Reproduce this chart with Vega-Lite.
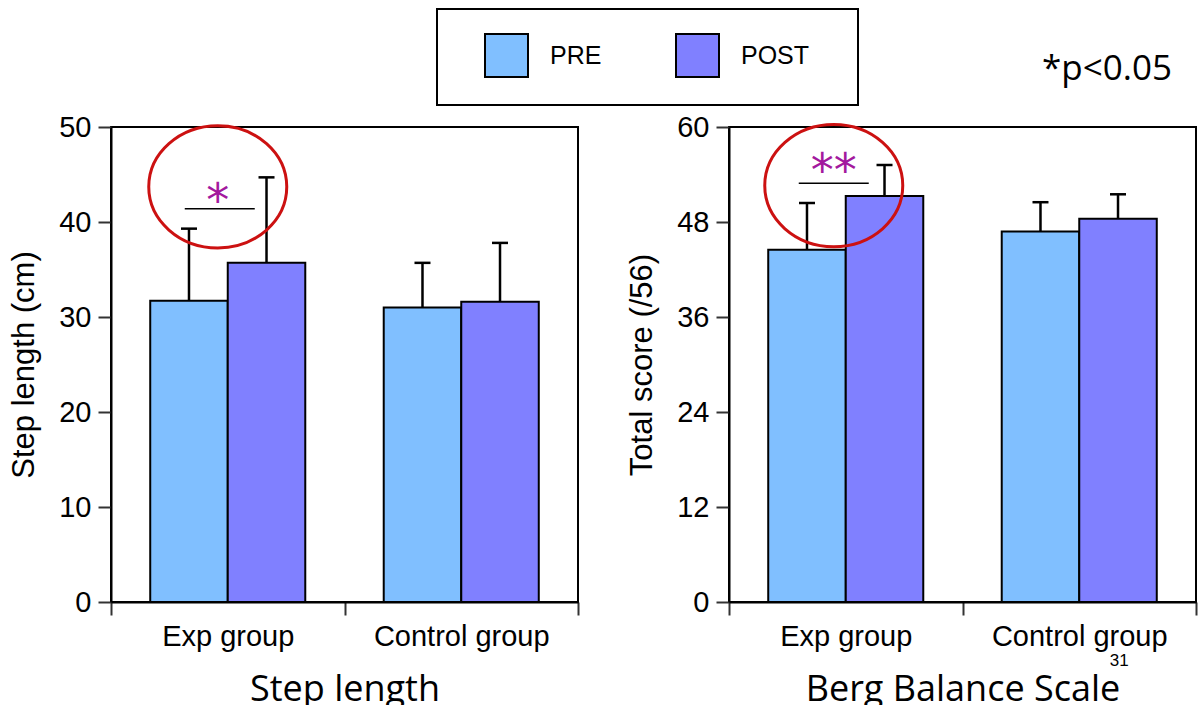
{
  "$schema": "https://vega.github.io/schema/vega-lite/v6.json",
  "background": "white",
  "padding": {"left": 7, "top": 8, "right": 0, "bottom": 0},
  "bounds": "flush",
  "spacing": 151,
  "datasets": {
    "bars": [
      {"panel": "Step length", "group": "Exp group", "phase": "PRE", "mean": 31.7, "upper": 39.3},
      {"panel": "Step length", "group": "Exp group", "phase": "POST", "mean": 35.7, "upper": 44.7},
      {"panel": "Step length", "group": "Control group", "phase": "PRE", "mean": 31.0, "upper": 35.7},
      {"panel": "Step length", "group": "Control group", "phase": "POST", "mean": 31.6, "upper": 37.8},
      {"panel": "Berg Balance Scale", "group": "Exp group", "phase": "PRE", "mean": 44.5, "upper": 50.4},
      {"panel": "Berg Balance Scale", "group": "Exp group", "phase": "POST", "mean": 51.3, "upper": 55.2},
      {"panel": "Berg Balance Scale", "group": "Control group", "phase": "PRE", "mean": 46.8, "upper": 50.5},
      {"panel": "Berg Balance Scale", "group": "Control group", "phase": "POST", "mean": 48.4, "upper": 51.5}
    ],
    "sig": [
      {"panel": "Step length", "group": "Exp group", "line": 41.4, "star": 43.3, "stars": "*", "ring": 43.7},
      {"panel": "Berg Balance Scale", "group": "Exp group", "line": 52.9, "star": 55.7, "stars": "**", "ring": 52.6}
    ]
  },
  "config": {
    "font": "Liberation Sans",
    "view": {"stroke": "black", "strokeWidth": 2},
    "axis": {
      "grid": false,
      "domainColor": "black",
      "domainWidth": 2,
      "tickColor": "#333333",
      "tickWidth": 2,
      "tickSize": 13,
      "labelFont": "Liberation Sans",
      "labelFontSize": 29,
      "labelColor": "black",
      "titleColor": "black",
      "titleFontWeight": "normal"
    },
    "axisY": {"labelPadding": 7, "titleFont": "Liberation Sans", "titleFontSize": 31, "titlePadding": 18},
    "axisX": {"labelAngle": 0, "labelPadding": 7, "tickBand": "extent", "titleFont": "Open Sans", "titleFontSize": 36, "titlePadding": 21},
    "legend": {"strokeWidth": 2}
  },
  "hconcat": [
    {
      "width": 467,
      "height": 475,
      "layer": [
        {
          "data": {"name": "bars"},
          "transform": [{"filter": "datum.panel == 'Step length'"}],
          "mark": {"type": "rule", "strokeWidth": 2.5, "color": "black"},
          "encoding": {
            "x": {"field": "group", "type": "nominal", "sort": ["Exp group", "Control group"], "scale": {"paddingInner": 0, "paddingOuter": 0}, "axis": {"title": "Step length"}},
            "xOffset": {"field": "phase", "type": "nominal", "scale": {"domain": ["PRE", "POST"], "paddingInner": 0, "paddingOuter": 0.506}},
            "y": {"field": "mean", "type": "quantitative", "scale": {"domain": [0, 50], "nice": false}, "axis": {"values": [0, 10, 20, 30, 40, 50], "title": "Step length (cm)"}},
            "y2": {"field": "upper"}
          }
        },
        {
          "data": {"name": "bars"},
          "transform": [{"filter": "datum.panel == 'Step length'"}],
          "mark": {"type": "tick", "orient": "horizontal", "size": 16, "thickness": 2.5, "color": "black", "opacity": 1},
          "encoding": {
            "x": {"field": "group", "type": "nominal", "sort": ["Exp group", "Control group"]},
            "xOffset": {"field": "phase", "type": "nominal", "scale": {"domain": ["PRE", "POST"]}},
            "y": {"field": "upper", "type": "quantitative", "title": "Step length (cm)"}
          }
        },
        {
          "data": {"name": "bars"},
          "transform": [{"filter": "datum.panel == 'Step length'"}],
          "mark": {"type": "bar", "stroke": "black", "strokeWidth": 2, "opacity": 1},
          "encoding": {
            "x": {"field": "group", "type": "nominal", "sort": ["Exp group", "Control group"]},
            "xOffset": {"field": "phase", "type": "nominal", "scale": {"domain": ["PRE", "POST"]}},
            "y": {"field": "mean", "type": "quantitative", "title": "Step length (cm)"},
            "fill": {
              "field": "phase", "type": "nominal",
              "scale": {"domain": ["PRE", "POST"], "range": ["#80bfff", "#8080ff"]},
              "legend": {
                "title": "\u00a0", "titleOrient": "right", "titlePadding": 25, "titleFontSize": 1,
                "orient": "none", "legendX": 326, "legendY": -118, "direction": "horizontal",
                "symbolType": "square", "symbolSize": 1849, "symbolStrokeColor": "black", "symbolStrokeWidth": 2,
                "symbolOffset": 23, "labelOffset": 21, "labelFont": "Liberation Sans", "labelFontSize": 25, "labelColor": "black",
                "columnPadding": 50, "padding": 24, "strokeColor": "black"
              }
            }
          }
        },
        {
          "data": {"name": "sig"},
          "transform": [{"filter": "datum.panel == 'Step length'"}],
          "mark": {"type": "tick", "orient": "horizontal", "size": 70, "thickness": 1.5, "color": "black", "opacity": 1, "xOffset": -8},
          "encoding": {
            "x": {"field": "group", "type": "nominal", "sort": ["Exp group", "Control group"]},
            "y": {"field": "line", "type": "quantitative", "title": "Step length (cm)"}
          }
        },
        {
          "data": {"name": "sig"},
          "transform": [{"filter": "datum.panel == 'Step length'"}],
          "mark": {"type": "text", "font": "DejaVu Sans", "fontSize": 46, "color": "#a3199e", "align": "center", "baseline": "alphabetic", "dy": 25, "xOffset": -10},
          "encoding": {
            "x": {"field": "group", "type": "nominal", "sort": ["Exp group", "Control group"]},
            "y": {"field": "star", "type": "quantitative", "title": "Step length (cm)"},
            "text": {"field": "stars"}
          }
        },
        {
          "data": {"name": "sig"},
          "transform": [{"filter": "datum.panel == 'Step length'"}],
          "mark": {"type": "point", "shape": "M-1,0A1,0.885,0,1,1,1,0A1,0.885,0,1,1,-1,0Z", "size": 19044, "filled": false, "stroke": "#cc1111", "strokeWidth": 3, "opacity": 1, "xOffset": -10},
          "encoding": {
            "x": {"field": "group", "type": "nominal", "sort": ["Exp group", "Control group"]},
            "y": {"field": "ring", "type": "quantitative", "title": "Step length (cm)"}
          }
        }
      ]
    },
    {
      "width": 467,
      "height": 475,
      "title": {"text": "*p<0.05", "anchor": "end", "font": "Open Sans", "fontSize": 35, "fontWeight": "normal", "color": "black", "baseline": "alphabetic", "dx": -25, "offset": -2},
      "layer": [
        {
          "data": {"name": "bars"},
          "transform": [{"filter": "datum.panel == 'Berg Balance Scale'"}],
          "mark": {"type": "rule", "strokeWidth": 2.5, "color": "black"},
          "encoding": {
            "x": {"field": "group", "type": "nominal", "sort": ["Exp group", "Control group"], "scale": {"paddingInner": 0, "paddingOuter": 0}, "axis": {"title": "Berg Balance Scale"}},
            "xOffset": {"field": "phase", "type": "nominal", "scale": {"domain": ["PRE", "POST"], "paddingInner": 0, "paddingOuter": 0.506}},
            "y": {"field": "mean", "type": "quantitative", "scale": {"domain": [0, 60], "nice": false}, "axis": {"values": [0, 12, 24, 36, 48, 60], "title": "Total score (/56)"}},
            "y2": {"field": "upper"}
          }
        },
        {
          "data": {"name": "bars"},
          "transform": [{"filter": "datum.panel == 'Berg Balance Scale'"}],
          "mark": {"type": "tick", "orient": "horizontal", "size": 16, "thickness": 2.5, "color": "black", "opacity": 1},
          "encoding": {
            "x": {"field": "group", "type": "nominal", "sort": ["Exp group", "Control group"]},
            "xOffset": {"field": "phase", "type": "nominal", "scale": {"domain": ["PRE", "POST"]}},
            "y": {"field": "upper", "type": "quantitative", "title": "Total score (/56)"}
          }
        },
        {
          "data": {"name": "bars"},
          "transform": [{"filter": "datum.panel == 'Berg Balance Scale'"}],
          "mark": {"type": "bar", "stroke": "black", "strokeWidth": 2, "opacity": 1},
          "encoding": {
            "x": {"field": "group", "type": "nominal", "sort": ["Exp group", "Control group"]},
            "xOffset": {"field": "phase", "type": "nominal", "scale": {"domain": ["PRE", "POST"]}},
            "y": {"field": "mean", "type": "quantitative", "title": "Total score (/56)"},
            "fill": {"field": "phase", "type": "nominal", "scale": {"domain": ["PRE", "POST"], "range": ["#80bfff", "#8080ff"]}}
          }
        },
        {
          "data": {"name": "sig"},
          "transform": [{"filter": "datum.panel == 'Berg Balance Scale'"}],
          "mark": {"type": "tick", "orient": "horizontal", "size": 70, "thickness": 1.5, "color": "black", "opacity": 1, "xOffset": -12},
          "encoding": {
            "x": {"field": "group", "type": "nominal", "sort": ["Exp group", "Control group"]},
            "y": {"field": "line", "type": "quantitative", "title": "Total score (/56)"}
          }
        },
        {
          "data": {"name": "sig"},
          "transform": [{"filter": "datum.panel == 'Berg Balance Scale'"}],
          "mark": {"type": "text", "font": "DejaVu Sans", "fontSize": 46, "color": "#a3199e", "align": "center", "baseline": "alphabetic", "dy": 25, "xOffset": -12},
          "encoding": {
            "x": {"field": "group", "type": "nominal", "sort": ["Exp group", "Control group"]},
            "y": {"field": "star", "type": "quantitative", "title": "Total score (/56)"},
            "text": {"field": "stars"}
          }
        },
        {
          "data": {"name": "sig"},
          "transform": [{"filter": "datum.panel == 'Berg Balance Scale'"}],
          "mark": {"type": "point", "shape": "M-1,0A1,0.885,0,1,1,1,0A1,0.885,0,1,1,-1,0Z", "size": 19044, "filled": false, "stroke": "#cc1111", "strokeWidth": 3, "opacity": 1, "xOffset": -12},
          "encoding": {
            "x": {"field": "group", "type": "nominal", "sort": ["Exp group", "Control group"]},
            "y": {"field": "ring", "type": "quantitative", "title": "Total score (/56)"}
          }
        },
        {
          "data": {"values": [{"group": "Control group", "pos": -7.5, "note": "31"}]},
          "mark": {"type": "text", "font": "Liberation Sans", "fontSize": 17, "color": "black", "align": "center", "baseline": "middle", "dx": 40},
          "encoding": {
            "x": {"field": "group", "type": "nominal", "sort": ["Exp group", "Control group"]},
            "y": {"field": "pos", "type": "quantitative", "title": "Total score (/56)"},
            "text": {"field": "note"}
          }
        }
      ]
    }
  ]
}
